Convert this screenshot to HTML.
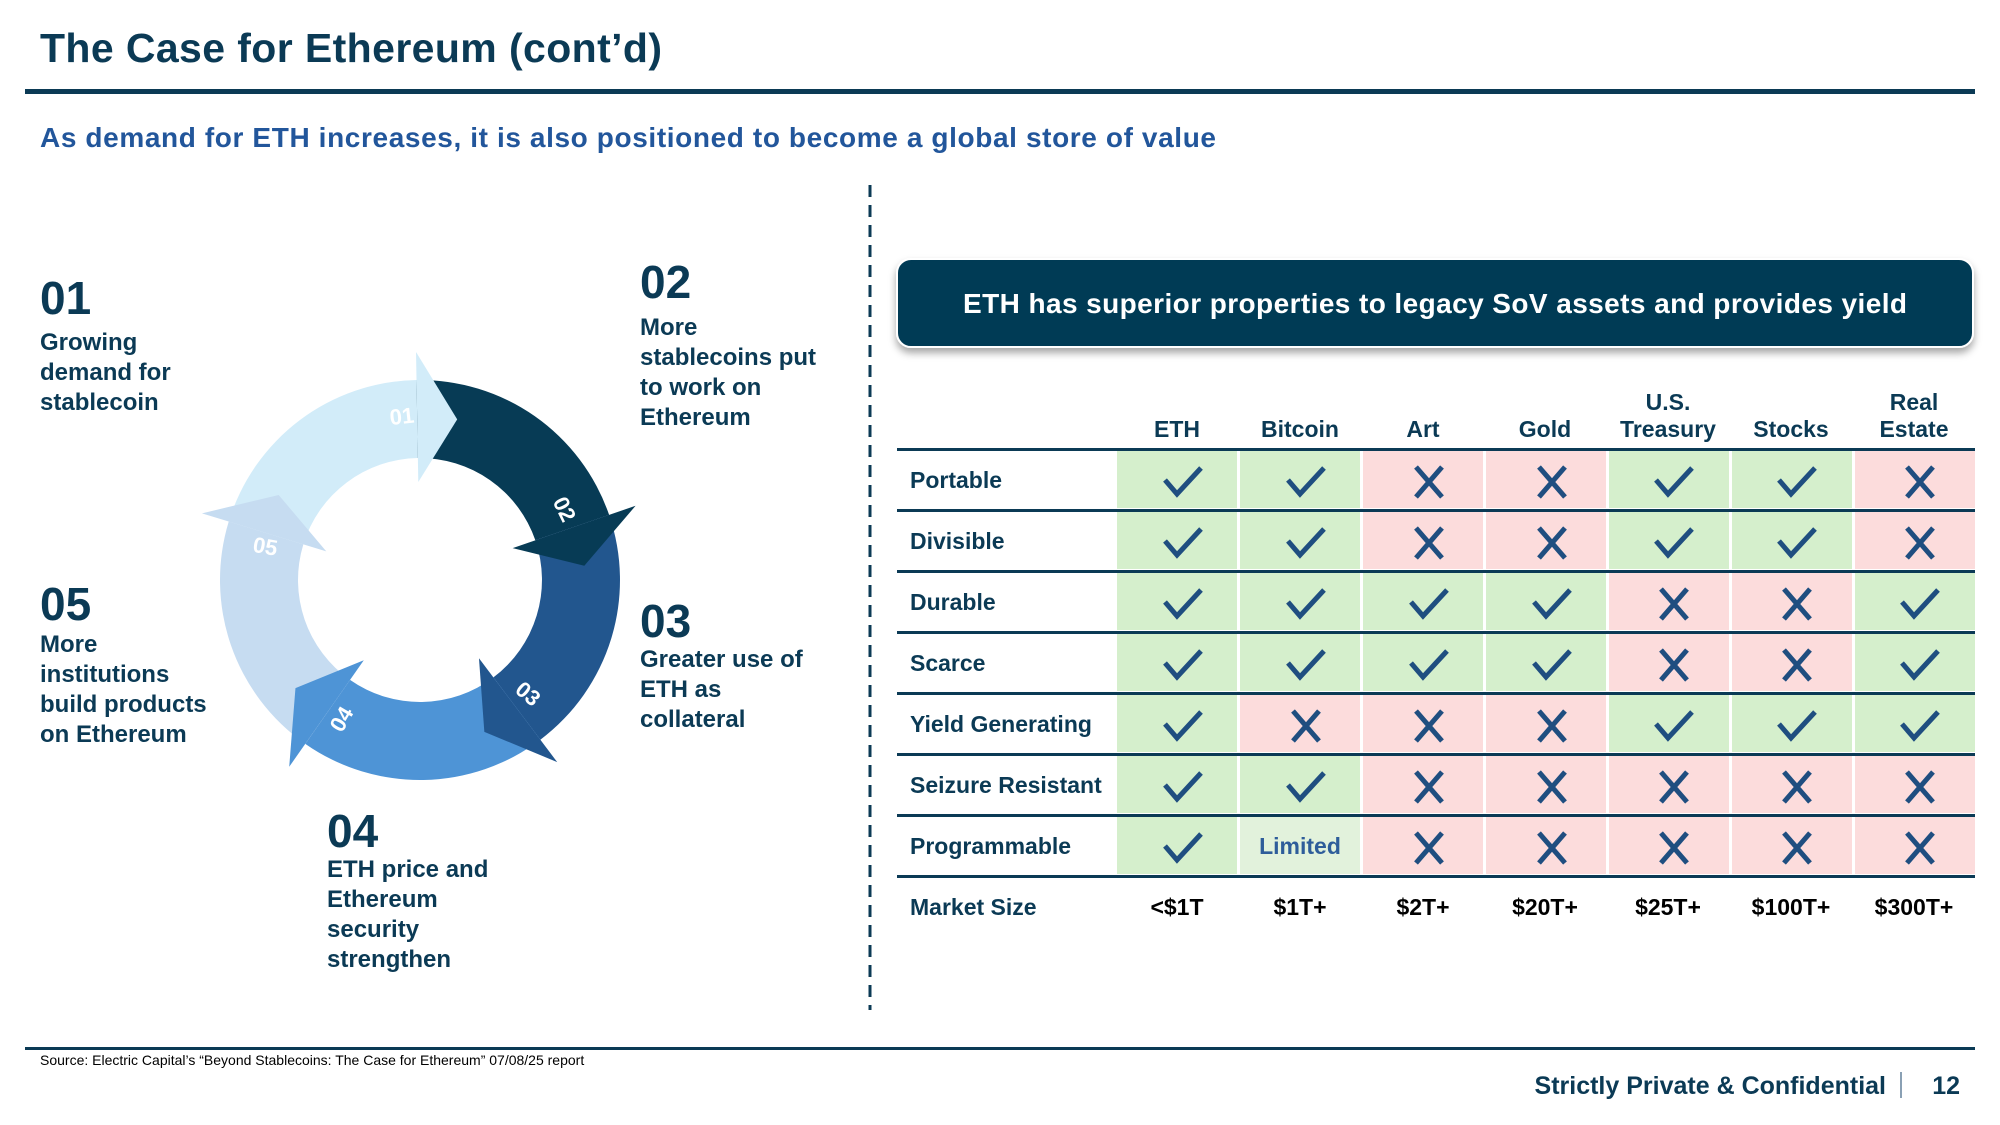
<!DOCTYPE html>
<html><head><meta charset="utf-8"><style>
html,body{margin:0;padding:0;background:#fff;}
svg{display:block;font-family:"Liberation Sans",sans-serif;}
</style></head><body>
<svg width="2000" height="1125" viewBox="0 0 2000 1125" xmlns="http://www.w3.org/2000/svg">
<defs>
<filter id="sh" x="-5%" y="-20%" width="110%" height="150%"><feDropShadow dx="0" dy="5" stdDeviation="4" flood-color="#000" flood-opacity="0.35"/></filter>
<g id="ck"><polyline points="-18,-2 -6,12 18,-14" fill="none" stroke="#1f4e80" stroke-width="5"/></g>
<g id="cx"><path d="M-13,-15 L13,15 M13,-15 L-13,15" stroke="#1f4e80" stroke-width="5"/></g>
<path id="body" d="M -190.2 -61.8 A 200 200 0 0 1 0 -200 L 0 -122 A 122 122 0 0 0 -116.0 -37.7 Z"/>
<polygon id="head" points="0,-98 0,-228 40,-160"/>
</defs>

<!-- title -->
<text x="40" y="62" font-size="41" font-weight="bold" fill="#0b3a55" textLength="622" lengthAdjust="spacing">The Case for Ethereum (cont’d)</text>
<rect x="25" y="89" width="1950" height="5" fill="#0b3a55"/>
<text x="40" y="147" font-size="28" font-weight="bold" fill="#22569b" textLength="1176" lengthAdjust="spacing">As demand for ETH increases, it is also positioned to become a global store of value</text>

<line x1="870" y1="185" x2="870" y2="1010" stroke="#0b3a55" stroke-width="3" stroke-dasharray="12,8"/>

<!-- cycle -->
<g transform="translate(420,580)">
  <use href="#body" fill="#d2ecf9" transform="rotate(-1)"/>
  <use href="#body" fill="#073b55" transform="rotate(71)"/>
  <use href="#body" fill="#22568e" transform="rotate(143)"/>
  <use href="#body" fill="#4e94d6" transform="rotate(215)"/>
  <use href="#body" fill="#c6dcf1" transform="rotate(287)"/>
  <use href="#head" fill="#d2ecf9" transform="rotate(-1)"/>
  <use href="#head" fill="#073b55" transform="rotate(71)"/>
  <use href="#head" fill="#22568e" transform="rotate(143)"/>
  <use href="#head" fill="#4e94d6" transform="rotate(215)"/>
  <use href="#head" fill="#c6dcf1" transform="rotate(287)"/>
</g>
<g font-size="22" font-weight="bold" fill="#fff" text-anchor="middle" dominant-baseline="middle">
  <text transform="translate(402,418) rotate(-6)">01</text>
  <text transform="translate(563,510) rotate(64)">02</text>
  <text transform="translate(527,695) rotate(40)">03</text>
  <text transform="translate(343,720) rotate(-60)">04</text>
  <text transform="translate(265,548) rotate(10)">05</text>
</g>

<!-- left labels -->
<g fill="#0b3a55" font-weight="bold">
  <text x="40" y="314" font-size="46">01</text>
  <g font-size="24"><text x="40" y="350">Growing</text><text x="40" y="380">demand for</text><text x="40" y="410">stablecoin</text></g>
  <text x="640" y="298" font-size="46">02</text>
  <g font-size="24"><text x="640" y="335">More</text><text x="640" y="365">stablecoins put</text><text x="640" y="395">to work on</text><text x="640" y="425">Ethereum</text></g>
  <text x="640" y="637" font-size="46">03</text>
  <g font-size="24"><text x="640" y="667">Greater use of</text><text x="640" y="697">ETH as</text><text x="640" y="727">collateral</text></g>
  <text x="40" y="620" font-size="46">05</text>
  <g font-size="24"><text x="40" y="652">More</text><text x="40" y="682">institutions</text><text x="40" y="712">build products</text><text x="40" y="742">on Ethereum</text></g>
  <text x="327" y="847" font-size="46">04</text>
  <g font-size="24"><text x="327" y="877">ETH price and</text><text x="327" y="907">Ethereum</text><text x="327" y="937">security</text><text x="327" y="967">strengthen</text></g>
</g>

<!-- banner -->
<rect x="897" y="259" width="1076" height="88" rx="14" fill="#063a55" stroke="#ffffff" stroke-width="2" filter="url(#sh)"/>
<text x="963" y="313" font-size="28" font-weight="bold" fill="#fff" textLength="944" lengthAdjust="spacing">ETH has superior properties to legacy SoV assets and provides yield</text>

<!-- table header -->
<g font-size="23" font-weight="bold" fill="#0b3a55" text-anchor="middle">
  <text x="1177" y="437">ETH</text>
  <text x="1300" y="437">Bitcoin</text>
  <text x="1423" y="437">Art</text>
  <text x="1545" y="437">Gold</text>
  <text x="1668" y="410">U.S.</text><text x="1668" y="437">Treasury</text>
  <text x="1791" y="437">Stocks</text>
  <text x="1914" y="410">Real</text><text x="1914" y="437">Estate</text>
</g>

<g id="cells">
<g transform="translate(0,451)">
<rect x="1117" width="120" height="57" fill="#d5efcc"/><rect x="1240" width="120" height="57" fill="#d5efcc"/><rect x="1363" width="120" height="57" fill="#fcdcdc"/><rect x="1486" width="120" height="57" fill="#fcdcdc"/><rect x="1609" width="120" height="57" fill="#d5efcc"/><rect x="1732" width="120" height="57" fill="#d5efcc"/><rect x="1855" width="120" height="57" fill="#fcdcdc"/>
</g>
<g transform="translate(0,512)">
<rect x="1117" width="120" height="57" fill="#d5efcc"/><rect x="1240" width="120" height="57" fill="#d5efcc"/><rect x="1363" width="120" height="57" fill="#fcdcdc"/><rect x="1486" width="120" height="57" fill="#fcdcdc"/><rect x="1609" width="120" height="57" fill="#d5efcc"/><rect x="1732" width="120" height="57" fill="#d5efcc"/><rect x="1855" width="120" height="57" fill="#fcdcdc"/>
</g>
<g transform="translate(0,573)">
<rect x="1117" width="120" height="57" fill="#d5efcc"/><rect x="1240" width="120" height="57" fill="#d5efcc"/><rect x="1363" width="120" height="57" fill="#d5efcc"/><rect x="1486" width="120" height="57" fill="#d5efcc"/><rect x="1609" width="120" height="57" fill="#fcdcdc"/><rect x="1732" width="120" height="57" fill="#fcdcdc"/><rect x="1855" width="120" height="57" fill="#d5efcc"/>
</g>
<g transform="translate(0,634)">
<rect x="1117" width="120" height="57" fill="#d5efcc"/><rect x="1240" width="120" height="57" fill="#d5efcc"/><rect x="1363" width="120" height="57" fill="#d5efcc"/><rect x="1486" width="120" height="57" fill="#d5efcc"/><rect x="1609" width="120" height="57" fill="#fcdcdc"/><rect x="1732" width="120" height="57" fill="#fcdcdc"/><rect x="1855" width="120" height="57" fill="#d5efcc"/>
</g>
<g transform="translate(0,695)">
<rect x="1117" width="120" height="57" fill="#d5efcc"/><rect x="1240" width="120" height="57" fill="#fcdcdc"/><rect x="1363" width="120" height="57" fill="#fcdcdc"/><rect x="1486" width="120" height="57" fill="#fcdcdc"/><rect x="1609" width="120" height="57" fill="#d5efcc"/><rect x="1732" width="120" height="57" fill="#d5efcc"/><rect x="1855" width="120" height="57" fill="#d5efcc"/>
</g>
<g transform="translate(0,756)">
<rect x="1117" width="120" height="57" fill="#d5efcc"/><rect x="1240" width="120" height="57" fill="#d5efcc"/><rect x="1363" width="120" height="57" fill="#fcdcdc"/><rect x="1486" width="120" height="57" fill="#fcdcdc"/><rect x="1609" width="120" height="57" fill="#fcdcdc"/><rect x="1732" width="120" height="57" fill="#fcdcdc"/><rect x="1855" width="120" height="57" fill="#fcdcdc"/>
</g>
<g transform="translate(0,817)">
<rect x="1117" width="120" height="57" fill="#d5efcc"/><rect x="1240" width="120" height="57" fill="#e2f2dc"/><rect x="1363" width="120" height="57" fill="#fcdcdc"/><rect x="1486" width="120" height="57" fill="#fcdcdc"/><rect x="1609" width="120" height="57" fill="#fcdcdc"/><rect x="1732" width="120" height="57" fill="#fcdcdc"/><rect x="1855" width="120" height="57" fill="#fcdcdc"/>
</g>
</g>

<g transform="translate(0,482)">
<use href="#ck" x="1183"/><use href="#ck" x="1306"/><use href="#cx" x="1429"/><use href="#cx" x="1552"/><use href="#ck" x="1674"/><use href="#ck" x="1797"/><use href="#cx" x="1920"/>
</g>
<g transform="translate(0,543)">
<use href="#ck" x="1183"/><use href="#ck" x="1306"/><use href="#cx" x="1429"/><use href="#cx" x="1552"/><use href="#ck" x="1674"/><use href="#ck" x="1797"/><use href="#cx" x="1920"/>
</g>
<g transform="translate(0,604)">
<use href="#ck" x="1183"/><use href="#ck" x="1306"/><use href="#ck" x="1429"/><use href="#ck" x="1552"/><use href="#cx" x="1674"/><use href="#cx" x="1797"/><use href="#ck" x="1920"/>
</g>
<g transform="translate(0,665)">
<use href="#ck" x="1183"/><use href="#ck" x="1306"/><use href="#ck" x="1429"/><use href="#ck" x="1552"/><use href="#cx" x="1674"/><use href="#cx" x="1797"/><use href="#ck" x="1920"/>
</g>
<g transform="translate(0,726)">
<use href="#ck" x="1183"/><use href="#cx" x="1306"/><use href="#cx" x="1429"/><use href="#cx" x="1552"/><use href="#ck" x="1674"/><use href="#ck" x="1797"/><use href="#ck" x="1920"/>
</g>
<g transform="translate(0,787)">
<use href="#ck" x="1183"/><use href="#ck" x="1306"/><use href="#cx" x="1429"/><use href="#cx" x="1552"/><use href="#cx" x="1674"/><use href="#cx" x="1797"/><use href="#cx" x="1920"/>
</g>
<g transform="translate(0,848)">
<use href="#ck" x="1183"/><use href="#cx" x="1429"/><use href="#cx" x="1552"/><use href="#cx" x="1674"/><use href="#cx" x="1797"/><use href="#cx" x="1920"/>
</g>
<text x="1300" y="854" font-size="23" font-weight="bold" fill="#2e5d9a" text-anchor="middle">Limited</text>

<g fill="#0b3a55">
<rect x="897" y="448" width="1078" height="3"/>
<rect x="897" y="509" width="1078" height="3"/>
<rect x="897" y="570" width="1078" height="3"/>
<rect x="897" y="631" width="1078" height="3"/>
<rect x="897" y="692" width="1078" height="3"/>
<rect x="897" y="753" width="1078" height="3"/>
<rect x="897" y="814" width="1078" height="3"/>
<rect x="897" y="875" width="1078" height="3"/>
</g>

<g font-size="23" font-weight="bold" fill="#0b3a55">
<text x="910" y="488">Portable</text>
<text x="910" y="549">Divisible</text>
<text x="910" y="610">Durable</text>
<text x="910" y="671">Scarce</text>
<text x="910" y="732">Yield Generating</text>
<text x="910" y="793">Seizure Resistant</text>
<text x="910" y="854">Programmable</text>
<text x="910" y="915">Market Size</text>
</g>
<g font-size="23" font-weight="bold" fill="#000" text-anchor="middle">
<text x="1177" y="915">&lt;$1T</text><text x="1300" y="915">$1T+</text><text x="1423" y="915">$2T+</text><text x="1545" y="915">$20T+</text><text x="1668" y="915">$25T+</text><text x="1791" y="915">$100T+</text><text x="1914" y="915">$300T+</text>
</g>

<rect x="25" y="1047" width="1950" height="3" fill="#0b3a55"/>
<text x="40" y="1065" font-size="14" fill="#000">Source: Electric Capital’s “Beyond Stablecoins: The Case for Ethereum” 07/08/25 report</text>
<text x="1886" y="1094" font-size="25" font-weight="bold" fill="#0b3a55" text-anchor="end">Strictly Private &amp; Confidential</text>
<rect x="1900" y="1072" width="2" height="26" fill="#8aa0b4"/>
<text x="1960" y="1094" font-size="25" font-weight="bold" fill="#0b3a55" text-anchor="end">12</text>
</svg>
</body></html>
